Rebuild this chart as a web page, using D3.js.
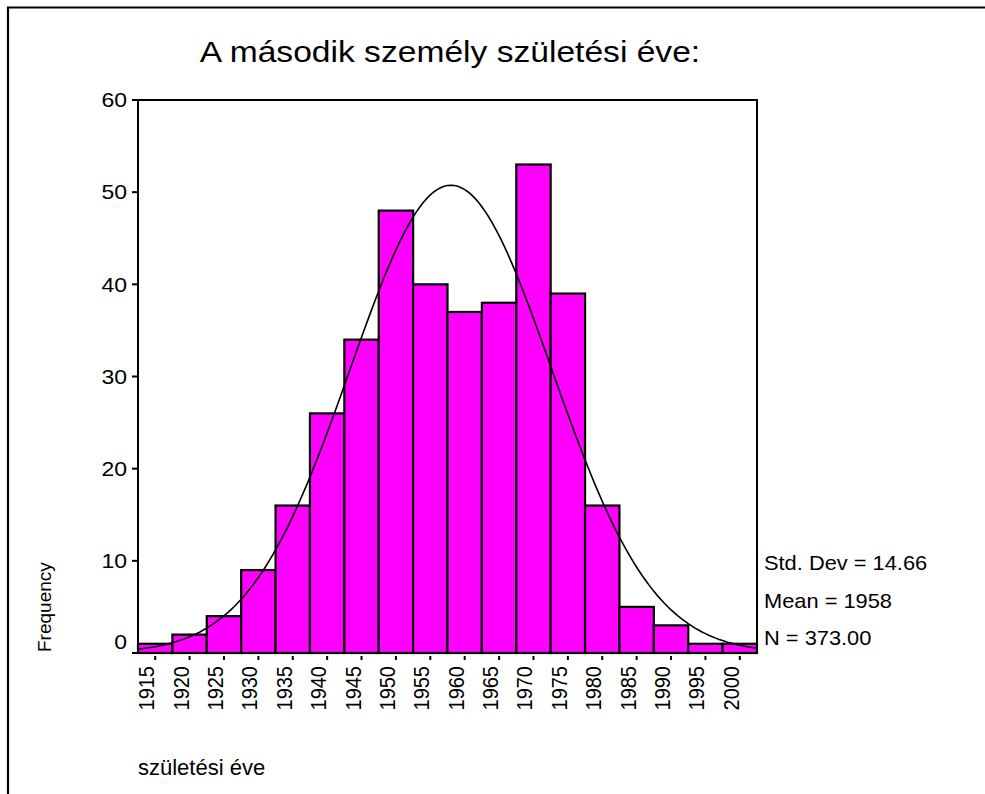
<!DOCTYPE html>
<html>
<head>
<meta charset="utf-8">
<script src="https://cdn.jsdelivr.net/npm/d3@7"></script>
<style>
  body { margin: 0; background: #fff; }
  text { font-family: "Liberation Sans", Arial, sans-serif; fill: #000; }
</style>
</head>
<body>
<div id="chart"></div>
<script>
// data
var years  = [1915, 1920, 1925, 1930, 1935, 1940, 1945, 1950, 1955, 1960, 1965, 1970, 1975, 1980, 1985, 1990, 1995, 2000];
var counts = [1, 2, 4, 9, 16, 26, 34, 48, 40, 37, 38, 53, 39, 16, 5, 3, 1, 1];
var yTicks = [0, 10, 20, 30, 40, 50, 60];
var statLines = ["Std. Dev = 14.66", "Mean = 1958", "N = 373.00"];
var stdDev = 14.66, mean = 1958, nCases = 373, binWidth = 5;

var width = 985, height = 794;
var plot = {left: 138, right: 757, top: 100, bottom: 653};

var svg = d3.select("#chart").append("svg")
	.attr("width", width)
	.attr("height", height);

var x = d3.scaleLinear()
	.domain([years[0] - binWidth/2, years[years.length-1] + binWidth/2])
	.range([plot.left, plot.right]);
var y = d3.scaleLinear()
	.domain([0, 60])
	.range([plot.bottom, plot.top]);

// outer frame (top + left only)
svg.append("path")
	.attr("d", "M8," + height + "V7.5H" + width)
	.attr("fill", "none")
	.attr("stroke", "#000")
	.attr("stroke-width", 2.2);

// title
svg.append("text")
	.attr("transform", "translate(450,62) scale(1.12,1)")
	.attr("text-anchor", "middle")
	.style("font-size", "30px")
	.text("A második személy születési éve:");

// bars
svg.append("g").selectAll("rect")
	.data(years)
	.enter().append("rect")
	.attr("x", function(d) { return x(d - binWidth/2); })
	.attr("y", function(d, i) { return y(counts[i]); })
	.attr("width", function(d) { return x(d + binWidth/2) - x(d - binWidth/2); })
	.attr("height", function(d, i) { return y(0) - y(counts[i]); })
	.attr("fill", "#ff00ff")
	.attr("stroke", "#000")
	.attr("stroke-width", 2.2);

// normal curve from the shown statistics
var curvePts = d3.range(x.domain()[0], x.domain()[1] + 0.01, 0.5).map(function(v) {
	var z = (v - mean) / stdDev;
	return [v, nCases * binWidth * Math.exp(-0.5*z*z) / (stdDev * Math.sqrt(2*Math.PI))];
});
svg.append("path")
	.datum(curvePts)
	.attr("fill", "none")
	.attr("stroke", "#000")
	.attr("stroke-width", 1.6)
	.attr("d", d3.line().x(function(d) { return x(d[0]); }).y(function(d) { return y(d[1]); }));

// plot frame
svg.append("rect")
	.attr("x", plot.left).attr("y", plot.top)
	.attr("width", plot.right - plot.left).attr("height", plot.bottom - plot.top)
	.attr("fill", "none")
	.attr("stroke", "#000")
	.attr("stroke-width", 2);

// y axis ticks + labels
var yAxis = svg.append("g");
yAxis.selectAll("line")
	.data(yTicks).enter().append("line")
	.attr("x1", plot.left - 6).attr("x2", plot.left)
	.attr("y1", function(d) { return y(d); }).attr("y2", function(d) { return y(d); })
	.attr("stroke", "#000").attr("stroke-width", 2);
yAxis.selectAll("text")
	.data(yTicks).enter().append("text")
	.attr("transform", function(d) { return "translate(127," + (y(d) + (d === 0 ? -11 : 0)) + ") scale(1.15,1)"; })
	.attr("text-anchor", "end")
	.attr("dy", "0.36em")
	.style("font-size", "20px")
	.text(function(d) { return d; });

// x axis ticks + rotated labels
var xAxis = svg.append("g");
xAxis.selectAll("line")
	.data(years).enter().append("line")
	.attr("x1", function(d) { return x(d); }).attr("x2", function(d) { return x(d); })
	.attr("y1", plot.bottom + 3).attr("y2", plot.bottom + 7)
	.attr("stroke", "#000").attr("stroke-width", 2);
xAxis.selectAll("text")
	.data(years).enter().append("text")
	.attr("transform", function(d) { return "translate(" + (x(d) - 1) + ",666) scale(1.1,1) rotate(-90)"; })
	.attr("text-anchor", "end")
	.style("font-size", "20px")
	.text(function(d) { return d; });

// axis titles
svg.append("text")
	.attr("transform", "translate(51,652) rotate(-90)")
	.attr("text-anchor", "start")
	.style("font-size", "19px")
	.text("Frequency");
svg.append("text")
	.attr("x", 138).attr("y", 775)
	.style("font-size", "22px")
	.text("születési éve");

// statistics
svg.append("g").selectAll("text")
	.data(statLines).enter().append("text")
	.attr("transform", function(d, i) { return "translate(764," + (570 + i*37.5) + ") scale(1.04,1)"; })
	.style("font-size", "21px")
	.text(function(d) { return d; });
</script>
</body>
</html>
